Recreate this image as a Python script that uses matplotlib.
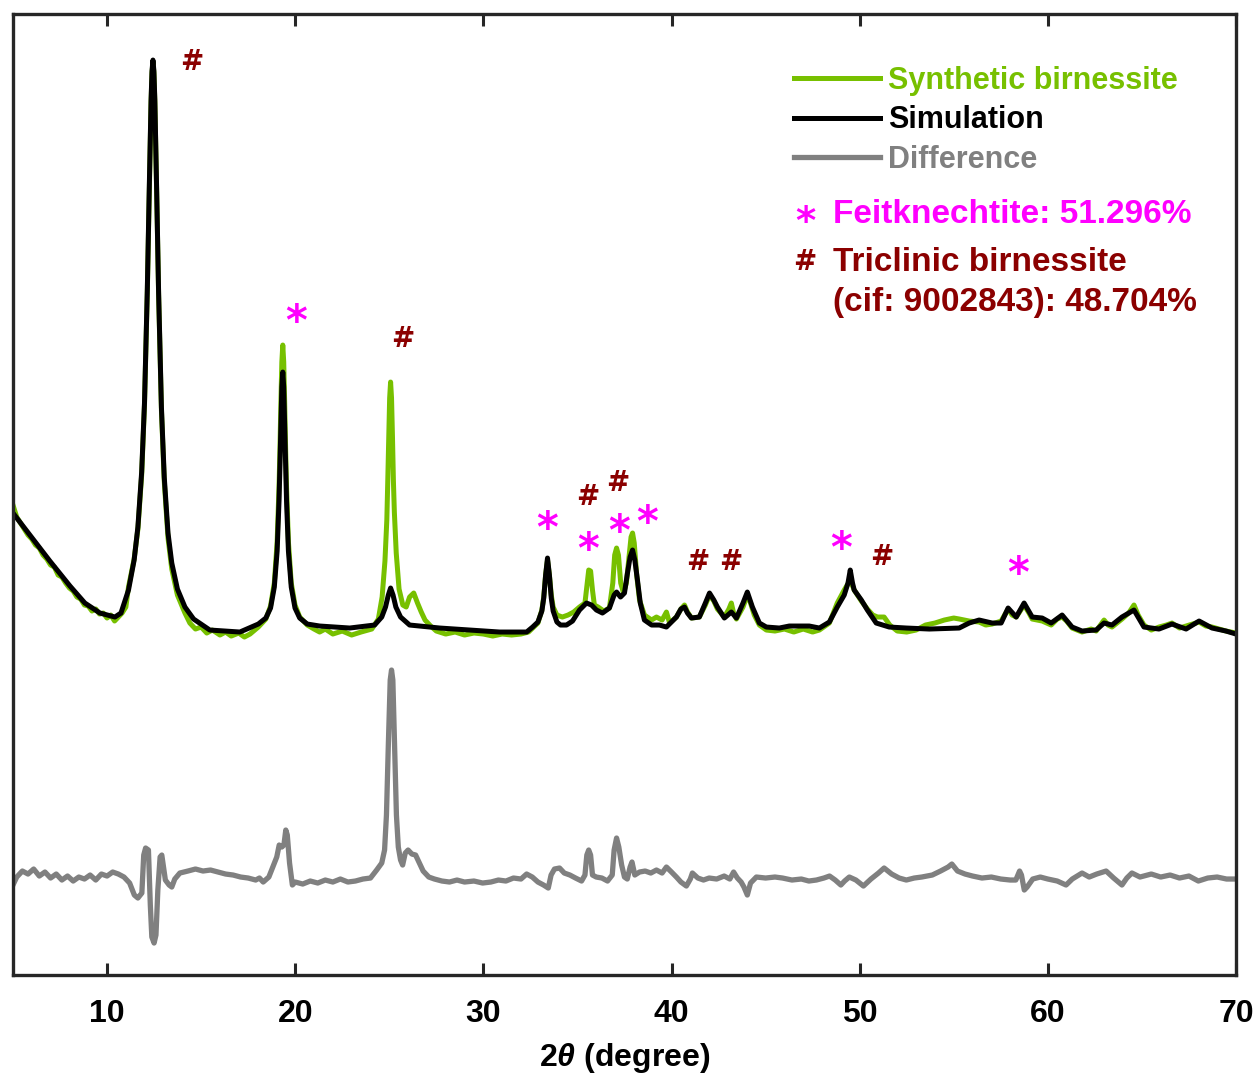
import matplotlib
matplotlib.use("Agg")
import matplotlib.pyplot as plt

plt.rcParams['font.family'] = ['Liberation Sans', 'DejaVu Sans']
plt.rcParams['font.weight'] = 'bold'
plt.rcParams['mathtext.fontset'] = 'custom'
plt.rcParams['mathtext.it'] = 'Liberation Sans:italic:bold'
plt.rcParams['mathtext.rm'] = 'Liberation Sans:bold'

# data (intensity in arbitrary units)
obs_x = [5.0, 5.2, 5.4, 5.6, 5.8, 6.0, 6.2, 6.4, 6.6, 6.8, 7.0, 7.2, 7.4, 7.6, 7.8, 8.0, 8.2, 8.4, 8.6, 8.8,
         9.0, 9.2, 9.4, 9.6, 9.8, 10.0, 10.2, 10.4, 10.6, 10.8, 11.0, 11.14, 11.44, 11.64, 11.84, 11.99,
         12.14, 12.24, 12.34, 12.39, 12.44, 12.49, 12.54, 12.64, 12.74, 12.89, 13.04, 13.24, 13.44, 13.74,
         14.14, 14.4, 14.7, 15.0, 15.3, 15.6, 16.0, 16.3, 16.6, 17.0, 17.3, 17.6, 18.04, 18.44, 18.69,
         18.89, 19.04, 19.14, 19.19, 19.24, 19.29, 19.34, 19.39, 19.44, 19.49, 19.54, 19.64, 19.79, 19.99,
         20.24, 20.64, 21.0, 21.3, 21.6, 22.0, 22.5, 23.0, 23.5, 24.07, 24.42, 24.62, 24.77, 24.87, 24.92,
         24.97, 25.02, 25.07, 25.12, 25.17, 25.22, 25.27, 25.37, 25.52, 25.72, 25.9, 26.08, 26.3, 26.5,
         26.7, 26.9, 27.2, 27.5, 28.0, 28.5, 29.0, 29.5, 30.0, 30.5, 31.0, 31.5, 32.0, 32.4, 32.9, 33.11,
         33.21, 33.31, 33.41, 33.51, 33.61, 33.71, 33.91, 34.2, 34.5, 34.8, 35.11, 35.4, 35.52, 35.6, 35.7,
         35.8, 35.9, 36.1, 36.4, 36.7, 36.88, 36.98, 37.08, 37.18, 37.3, 37.45, 37.6, 37.75, 37.85, 37.93,
         38.02, 38.15, 38.3, 38.56, 38.94, 39.2, 39.5, 39.73, 39.9, 40.26, 40.5, 40.69, 40.85, 41.06, 41.48,
         41.8, 42.02, 42.25, 42.44, 42.81, 43.05, 43.18, 43.3, 43.45, 43.8, 44.03, 44.2, 44.4, 44.67, 45.04,
         45.5, 46.0, 46.5, 47.0, 47.5, 47.86, 48.39, 48.81, 49.18, 49.5, 49.71, 50.09, 50.41, 50.7, 50.95,
         51.3, 51.6, 52.0, 52.5, 53.0, 53.5, 54.0, 54.5, 55.0, 55.3, 55.82, 56.35, 56.7, 57.04, 57.52,
         57.89, 58.1, 58.32, 58.74, 59.0, 59.17, 59.7, 60.18, 60.5, 60.76, 61.0, 61.29, 61.82, 62.3, 62.57,
         62.99, 63.2, 63.41, 63.94, 64.3, 64.58, 64.8, 65.11, 65.5, 65.91, 66.3, 66.6, 67.0, 67.35, 68.04,
         68.4, 68.73, 69.1, 69.47, 70.0]
obs_y = [470, 458, 452, 446, 440, 436, 430, 427, 420, 416, 410, 408, 400, 398, 392, 387, 384, 378, 376, 370,
         369, 364, 366, 361, 362, 357, 360, 354, 358, 362, 368, 388, 416, 446, 500, 570,
         683, 780, 873, 902, 913, 902, 873, 780, 681, 565, 494, 437, 406, 380,
         362, 352, 346, 348, 342, 345, 340, 343, 339, 342, 338, 341, 348, 356, 369,
         392, 433, 488, 527, 573, 613, 630, 613, 573, 527, 488, 433, 392, 370,
         358, 350, 346, 343, 346, 341, 344, 340, 343, 346, 356, 378, 414, 455, 494,
         538, 577, 593, 577, 538, 494, 463, 422, 386, 370, 368, 378, 382, 372,
         363, 355, 349, 344, 341, 343, 340, 342, 341, 339, 341, 340, 341, 343, 352, 365,
         378, 400, 415, 400, 380, 368, 360, 358, 360, 363, 368, 372, 392, 405, 404,
         385, 370, 368, 364, 367, 392, 420, 427, 420, 392, 382, 392, 420, 438, 442,
         432, 400, 375, 360, 355, 358, 355, 363, 352, 358, 366, 370, 363, 357, 358,
         370, 380, 374, 366, 358, 366, 372, 362, 356, 368, 380, 372, 360, 350, 345,
         344, 346, 343, 346, 343, 345, 352, 372, 385, 395, 385, 374, 366, 360, 358,
         358, 350, 344, 343, 345, 350, 352, 355, 357, 356, 354, 353, 350, 351, 354,
         366, 360, 358, 370, 362, 356, 354, 350, 356, 358, 354, 347, 343, 346, 344,
         355, 350, 348, 356, 362, 370, 360, 350, 345, 348, 350, 352, 347, 349, 353,
         349, 348, 346, 344, 342]

sim_x = [5.0, 5.9, 6.96, 8.03, 8.82, 9.62, 10.42, 10.74, 11.14, 11.44, 11.64, 11.84, 11.99, 12.14, 12.24,
         12.34, 12.39, 12.44, 12.49, 12.54, 12.64, 12.74, 12.89, 13.04, 13.24, 13.44, 13.74, 14.14, 14.6,
         15.46, 17.06, 18.04, 18.44, 18.69, 18.89, 19.04, 19.14, 19.19, 19.24, 19.29, 19.34, 19.39, 19.44,
         19.49, 19.54, 19.64, 19.79, 19.99, 20.24, 20.64, 21.3, 22.9, 24.22, 24.6, 24.8, 24.95, 25.07,
         25.2, 25.35, 25.6, 26.08, 27.68, 29.27, 30.86, 32.3, 32.62, 32.9, 33.11, 33.21, 33.31, 33.41,
         33.51, 33.61, 33.71, 33.91, 34.1, 34.42, 34.74, 35.11, 35.48, 35.75, 36.01, 36.33, 36.7, 36.95,
         37.08, 37.29, 37.5, 37.66, 37.8, 37.93, 38.05, 38.19, 38.34, 38.56, 38.94, 39.36, 39.73, 40.26,
         40.5, 40.69, 40.85, 41.06, 41.48, 41.8, 42.02, 42.25, 42.44, 42.81, 43.18, 43.45, 43.8, 44.03,
         44.3, 44.67, 45.04, 45.73, 46.26, 47.32, 47.86, 48.39, 48.81, 49.18, 49.38, 49.5, 49.62, 49.71,
         50.09, 50.41, 50.88, 51.57, 52.48, 53.7, 55.29, 55.82, 56.35, 57.04, 57.52, 57.89, 58.32, 58.74,
         59.17, 59.7, 60.18, 60.76, 61.29, 61.82, 62.57, 62.99, 63.41, 63.94, 64.58, 65.11, 65.91, 66.6,
         67.35, 68.04, 68.73, 69.47, 70.0]
sim_y = [462, 440, 414, 389, 372, 362, 358, 362, 385, 415, 448, 503, 572, 685, 783,
         875, 904, 915, 904, 875, 782, 683, 568, 498, 442, 412, 386, 368, 356,
         345, 343, 351, 357, 367, 388, 424, 474, 510, 551, 588, 603, 588, 551,
         510, 474, 424, 388, 367, 357, 351, 349, 347, 350, 358, 368, 380, 387,
         380, 368, 358, 350, 347, 345, 343, 343, 348, 353, 364, 377, 400, 417,
         400, 377, 364, 353, 350, 350, 354, 365, 372, 370, 365, 362, 367, 380,
         383, 378, 382, 402, 418, 425, 415, 395, 372, 355, 350, 350, 348, 358,
         366, 368, 362, 357, 358, 372, 382, 375, 368, 357, 363, 357, 372, 383,
         368, 352, 348, 347, 349, 349, 347, 353, 368, 380, 392, 405, 392, 385,
         375, 365, 352, 348, 347, 346, 347, 352, 355, 352, 352, 367, 358, 372,
         358, 357, 352, 360, 348, 344, 345, 352, 350, 358, 365, 348, 346, 351,
         346, 354, 347, 344, 341]

diff_x = [5.0, 5.2, 5.5, 5.8, 6.1, 6.4, 6.7, 7.0, 7.3, 7.6, 7.9, 8.2, 8.5, 8.8, 9.1, 9.4, 9.7, 10.0, 10.3,
          10.6, 10.9, 11.2, 11.45, 11.64, 11.85, 11.95, 12.05, 12.2, 12.3, 12.38, 12.5, 12.6, 12.7, 12.82,
          12.91, 13.0, 13.1, 13.3, 13.44, 13.6, 13.87, 14.3, 14.7, 15.1, 15.5, 15.9, 16.3, 16.7, 17.1, 17.5,
          17.9, 18.1, 18.3, 18.6, 18.85, 19.02, 19.15, 19.29, 19.4, 19.5, 19.58, 19.7, 19.85, 20.0, 20.4,
          20.8, 21.2, 21.6, 22.0, 22.4, 22.8, 23.2, 23.6, 24.0, 24.33, 24.6, 24.75, 24.85, 24.95, 25.05,
          25.12, 25.19, 25.28, 25.38, 25.48, 25.6, 25.71, 25.85, 26.0, 26.2, 26.4, 26.6, 26.8, 27.1, 27.4,
          27.8, 28.2, 28.6, 29.0, 29.5, 29.96, 30.4, 30.8, 31.2, 31.6, 32.0, 32.3, 32.6, 32.9, 33.2, 33.45,
          33.6, 33.78, 34.05, 34.3, 34.6, 34.9, 35.22, 35.4, 35.5, 35.6, 35.7, 35.8, 36.0, 36.3, 36.6, 36.85,
          36.95, 37.08, 37.2, 37.35, 37.5, 37.65, 37.8, 37.9, 38.05, 38.3, 38.6, 38.9, 39.2, 39.5, 39.73,
          40.0, 40.26, 40.5, 40.79, 41.0, 41.11, 41.4, 41.7, 42.0, 42.4, 42.8, 43.1, 43.3, 43.5, 43.7, 43.85,
          44.03, 44.2, 44.51, 45.0, 45.5, 45.9, 46.4, 46.9, 47.3, 47.7, 48.1, 48.4, 48.7, 49.0, 49.2, 49.45,
          49.8, 50.2, 50.6, 51.0, 51.3, 51.7, 52.1, 52.48, 52.9, 53.3, 53.86, 54.3, 54.7, 54.9, 55.2, 55.6,
          56.0, 56.5, 57.0, 57.5, 58.0, 58.3, 58.5, 58.6, 58.75, 58.9, 59.2, 59.6, 60.0, 60.5, 60.97, 61.3,
          61.82, 62.2, 62.6, 63.1, 63.5, 63.94, 64.2, 64.47, 64.9, 65.5, 66.0, 66.5, 67.0, 67.5, 68.0, 68.5,
          69.0, 69.5, 70.0]
diff_y = [90, 98, 104, 101, 106, 99, 103, 97, 101, 95, 99, 94, 98, 96, 100, 95, 101, 99, 103,
          101, 98, 92, 80, 77, 82, 120, 127, 125, 70, 38, 32, 40, 85, 118,
          120, 108, 95, 90, 88, 96, 102, 104, 106, 104, 105, 103, 101, 100, 98, 97,
          95, 97, 93, 98, 110, 118, 130, 128, 130, 145, 140, 112, 90, 93, 91,
          94, 92, 95, 93, 96, 93, 94, 96, 97, 105, 112, 125, 160, 230, 295,
          305, 295, 230, 160, 128, 115, 110, 122, 125, 121, 120, 112, 104, 98, 96,
          94, 93, 95, 93, 94, 92, 93, 95, 94, 97, 96, 101, 98, 93, 90, 87,
          100, 106, 107, 102, 100, 97, 94, 100, 120, 125, 120, 100, 98, 97, 94, 100,
          125, 137, 128, 110, 98, 96, 108, 113, 100, 103, 104, 102, 105, 102, 108,
          103, 98, 93, 89, 96, 102, 97, 95, 97, 96, 99, 96, 103, 97, 93, 88,
          80, 92, 98, 97, 98, 97, 95, 96, 94, 95, 97, 99, 95, 90, 94, 98,
          95, 89, 96, 102, 107, 101, 97, 95, 97, 98, 100, 104, 108, 111, 104, 101,
          99, 97, 98, 96, 95, 95, 104, 100, 85, 88, 96, 98, 96, 94, 90, 96,
          102, 98, 101, 104, 97, 90, 97, 102, 98, 101, 98, 100, 97, 99, 94, 97,
          98, 96, 96]

# phase markers
tri_x = [14.51, 25.71, 35.54, 37.13, 41.38, 43.13, 51.2]
tri_y = [915, 638, 480, 494, 415, 415, 420]
feit_x = [20.03, 33.41, 35.54, 37.24, 38.72, 49.03, 58.43]
feit_y = [665, 458, 437, 455, 464, 438, 413]

green = '#77C000'
dred = '#8B0000'
mag = '#FF00FF'
sym_font = ['DejaVu Sans']

fig = plt.figure(figsize=(12.59, 10.8), dpi=100)
ax = fig.add_axes([0.0103, 0.0972, 0.9714, 0.8898])

ax.plot(obs_x, obs_y, color=green, lw=3.6, label='Synthetic birnessite', solid_joinstyle='round')
ax.plot(sim_x, sim_y, color='black', lw=3.6, label='Simulation', solid_joinstyle='round')
ax.plot(diff_x, diff_y, color='#808080', lw=3.8, label='Difference', solid_joinstyle='round')

fs_hash = 20
fs_star = 30
for x, y in zip(tri_x, tri_y):
    ax.annotate('#', (x, y), xytext=(0, -0.36 * fs_hash), textcoords='offset points',
                ha='center', va='baseline', color=dred, fontsize=fs_hash, fontweight='bold',
                family=sym_font)
for x, y in zip(feit_x, feit_y):
    ax.annotate('*', (x, y), xytext=(0, -0.59 * fs_star), textcoords='offset points',
                ha='center', va='baseline', color=mag, fontsize=fs_star, fontweight='bold',
                family=sym_font)

ax.set_xlim(5, 70)
ax.set_ylim(0, 961)
ax.set_xticks([10, 20, 30, 40, 50, 60, 70])
ax.set_yticks([])
ax.tick_params(axis='x', direction='in', length=8.5, width=2.2, top=True, labelsize=23, pad=17,
               color='#262626')
for lab in ax.get_xticklabels():
    lab.set_fontweight('bold')
for s in ax.spines.values():
    s.set_linewidth(2.4)
    s.set_color('#262626')
ax.set_xlabel(r'2$\theta$ (degree)', fontsize=23, fontweight='bold', labelpad=9)

leg = ax.legend(loc='upper left', bbox_to_anchor=(0.639, 0.946), frameon=False,
                prop={'weight': 'bold', 'size': 22}, handlelength=2.8, handletextpad=0.25,
                labelspacing=0.31, borderpad=0, borderaxespad=0, labelcolor='linecolor')

tr = ax.transAxes
ax.annotate('*', (0.6476, 0.795), xycoords='axes fraction', xytext=(0, -0.59 * 28),
            textcoords='offset points', ha='center', va='baseline', color=mag, fontsize=28,
            fontweight='bold', family=sym_font)
ax.text(0.6705, 0.783, 'Feitknechtite: 51.296%', transform=tr, ha='left', va='baseline', color=mag,
        fontsize=24, fontweight='bold')
ax.annotate('#', (0.6476, 0.7445), xycoords='axes fraction', xytext=(0, -0.36 * 20),
            textcoords='offset points', ha='center', va='baseline', color=dred, fontsize=20,
            fontweight='bold', family=sym_font)
ax.text(0.6705, 0.7326, 'Triclinic birnessite', transform=tr, ha='left', va='baseline', color=dred,
        fontsize=24, fontweight='bold')
ax.text(0.6705, 0.691, '(cif: 9002843): 48.704%', transform=tr, ha='left', va='baseline', color=dred,
        fontsize=24, fontweight='bold')

fig.savefig('out.png', dpi=100)
